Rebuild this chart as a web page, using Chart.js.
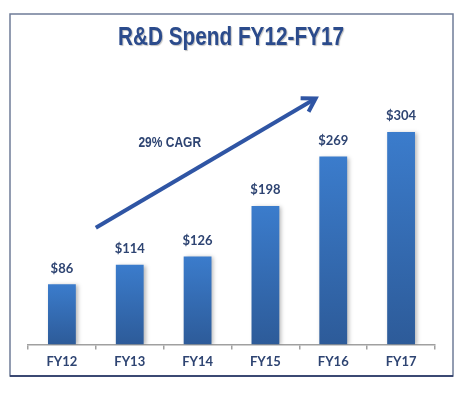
<!DOCTYPE html>
<html lang="en">
<head>
    <meta charset="UTF-8">
    <title>R&amp;D Spend FY12-FY17</title>
    <style>
        body {
            margin: 0;
            padding: 0;
            background-color: #ffffff;
        }
        .chart-box {
            width: 472px;
            height: 402px;
        }
    </style>
    <script src="https://cdn.jsdelivr.net/npm/chart.js"></script>
</head>
<body>

    <div class="chart-box">
        <canvas id="rdChart" width="472" height="402"></canvas>
    </div>

    <script>
        // Chart data
        const years = ['FY12', 'FY13', 'FY14', 'FY15', 'FY16', 'FY17'];
        const spend = [86, 114, 126, 198, 269, 304];
        const chartTitle = 'R&D Spend FY12-FY17';
        const cagrLabel = '29% CAGR';

        // arrow and CAGR note, in (category index, value) terms
        const arrowFrom = [0.5, 167];
        const arrowTo = [3.74, 352];
        const cagrAt = [1.59, 288];

        const navy = '#2E4472';

        // draw text squeezed to look like a narrow face
        function narrowText(ctx, text, x, y, squeeze) {
            ctx.save();
            ctx.translate(x, y);
            ctx.scale(squeeze, 1);
            ctx.fillText(text, 0, 0);
            ctx.restore();
        }

        // frame, title, arrow and value labels
        const decorations = {
            id: 'decorations',
            beforeDraw(chart) {
                const ctx = chart.ctx;
                ctx.save();
                ctx.fillStyle = '#fff';
                ctx.fillRect(0, 0, chart.width, chart.height);
                ctx.strokeStyle = '#6F7C98';
                ctx.lineWidth = 1.5;
                ctx.strokeRect(10, 14, 443, 362);
                ctx.strokeStyle = '#1E2E5E';
                ctx.beginPath();
                ctx.moveTo(10, 376);
                ctx.lineTo(453, 376);
                ctx.stroke();

                ctx.fillStyle = '#2B4B8C';
                ctx.font = 'bold 25px "Liberation Sans", Arial, sans-serif';
                ctx.textAlign = 'center';
                ctx.textBaseline = 'middle';
                ctx.shadowColor = 'rgba(0,0,0,0.25)';
                ctx.shadowOffsetX = 1;
                ctx.shadowOffsetY = 1;
                ctx.shadowBlur = 1;
                narrowText(ctx, chartTitle, 231, 38, 0.83);
                ctx.restore();
            },
            beforeDatasetsDraw(chart) {
                const ctx = chart.ctx;
                ctx.save();
                ctx.shadowColor = 'rgba(0,0,0,0.28)';
                ctx.shadowBlur = 4;
                ctx.shadowOffsetX = 2;
                ctx.shadowOffsetY = 1;
            },
            afterDatasetsDraw(chart) {
                const ctx = chart.ctx;
                ctx.restore();
                const x = chart.scales.x;
                const y = chart.scales.y;

                ctx.save();
                ctx.fillStyle = navy;
                ctx.font = 'bold 13px Lato, "Open Sans", sans-serif';
                ctx.textAlign = 'center';
                ctx.textBaseline = 'middle';
                chart.getDatasetMeta(0).data.forEach((bar, i) => {
                    ctx.fillText('$' + spend[i], bar.x, bar.y - 16);
                });

                // growth arrow
                const x0 = x.getPixelForValue(arrowFrom[0]);
                const y0 = y.getPixelForValue(arrowFrom[1]);
                const x1 = x.getPixelForValue(arrowTo[0]);
                const y1 = y.getPixelForValue(arrowTo[1]);
                const ang = Math.atan2(y1 - y0, x1 - x0);
                const head = 15;
                ctx.strokeStyle = '#2F55A4';
                ctx.lineWidth = 4;
                ctx.lineCap = 'butt';
                ctx.lineJoin = 'miter';
                ctx.beginPath();
                ctx.moveTo(x0, y0);
                ctx.lineTo(x1 - 1.5 * Math.cos(ang), y1 - 1.5 * Math.sin(ang));
                ctx.stroke();
                ctx.beginPath();
                ctx.moveTo(x1 - head * Math.cos(ang - 0.55), y1 - head * Math.sin(ang - 0.55));
                ctx.lineTo(x1, y1);
                ctx.lineTo(x1 - head * Math.cos(ang + 0.55), y1 - head * Math.sin(ang + 0.55));
                ctx.stroke();

                ctx.fillStyle = navy;
                ctx.font = 'bold 15px "Liberation Sans", Arial, sans-serif';
                narrowText(ctx, cagrLabel, x.getPixelForValue(cagrAt[0]), y.getPixelForValue(cagrAt[1]), 0.8);
                ctx.restore();
            }
        };

        function barFill(context) {
            const chart = context.chart;
            const area = chart.chartArea;
            if (!area) return '#3571BC';
            const yScale = chart.scales.y;
            const top = yScale.getPixelForValue(spend[context.dataIndex]);
            const g = chart.ctx.createLinearGradient(0, top, 0, area.bottom);
            g.addColorStop(0, '#3B7CCC');
            g.addColorStop(1, '#2D5B99');
            return g;
        }

        const ctx1 = document.getElementById('rdChart').getContext('2d');

        let rdChart = new Chart(ctx1, {
            type: 'bar',
            data: {
                labels: years,
                datasets: [{
                    label: 'R&D Spend',
                    data: spend,
                    backgroundColor: barFill,
                    borderWidth: 0,
                    categoryPercentage: 1,
                    barPercentage: 0.41
                }]
            },
            options: {
                responsive: false,
                animation: false,
                devicePixelRatio: 1,
                layout: {
                    padding: { left: 28, right: 37, top: 65, bottom: 27 }
                },
                plugins: {
                    legend: { display: false },
                    tooltip: { enabled: false }
                },
                scales: {
                    x: {
                        grid: {
                            drawOnChartArea: false,
                            drawTicks: true,
                            tickLength: 5,
                            color: '#A0A0A0',
                            lineWidth: 1.5
                        },
                        border: { display: true, color: '#A0A0A0', width: 1.5 },
                        ticks: {
                            color: navy,
                            padding: 5,
                            font: { family: 'Lato, "Open Sans", sans-serif', size: 13, weight: 'bold' }
                        }
                    },
                    y: {
                        display: false,
                        min: 0,
                        max: 400
                    }
                }
            },
            plugins: [decorations]
        });
    </script>
</body>
</html>
